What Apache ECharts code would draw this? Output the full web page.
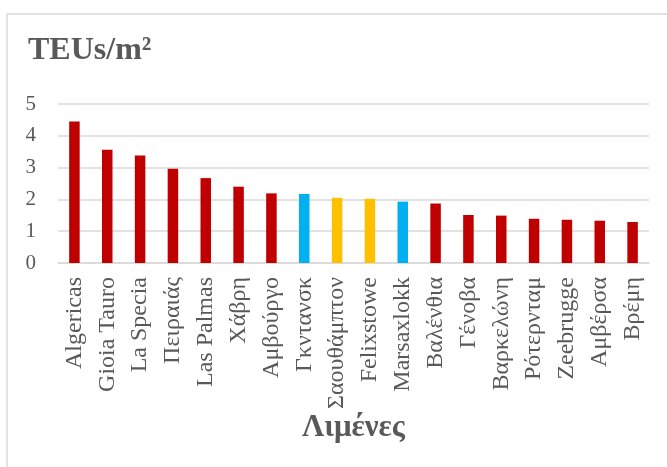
<!DOCTYPE html>
<html>
<head>
<meta charset="utf-8">
<script src="https://cdn.jsdelivr.net/npm/echarts@6/dist/echarts.min.js"></script>
<style>
  html, body { margin: 0; padding: 0; background: #fff; }
  #chart { width: 667px; height: 467px; }
</style>
</head>
<body>
<div id="chart"></div>
<script>
// Ports and their container throughput density (TEUs per m²)
const categories = ['Algericas', 'Gioia Tauro', 'La Specia', 'Πειραιάς', 'Las Palmas', 'Χάβρη',
  'Αμβούργο', 'Γκντανσκ', 'Σαουθάμπτον', 'Felixstowe', 'Marsaxlokk', 'Βαλένθια',
  'Γένοβα', 'Βαρκελώνη', 'Ρότερνταμ', 'Zeebrugge', 'Αμβέρσα', 'Βρέμη'];
const values = [4.45, 3.56, 3.38, 2.96, 2.67, 2.40, 2.19, 2.17, 2.05, 2.02, 1.93, 1.87,
  1.51, 1.49, 1.39, 1.36, 1.33, 1.29];
// Port group: 'a' default, 'b' and 'c' are the two highlighted groups
const groups = ['a', 'a', 'a', 'a', 'a', 'a', 'a', 'b', 'c', 'c', 'b', 'a',
  'a', 'a', 'a', 'a', 'a', 'a'];
const yTicks = [0, 1, 2, 3, 4, 5];

const groupColor = { a: '#C00000', b: '#00B0F0', c: '#FFC000' };
const textColor = '#595959';
const serif = '"Liberation Serif", "Times New Roman", serif';

const chart = echarts.init(document.getElementById('chart'));
chart.setOption({
  animation: false,
  backgroundColor: '#ffffff',
  graphic: [{
    type: 'rect',
    shape: { x: 7, y: 14, width: 700, height: 500 },
    style: { fill: 'none', stroke: '#d9d9d9', lineWidth: 1.5 },
    silent: true
  }],
  title: {
    text: 'TEUs/m²',
    left: 23,
    top: 30,
    textStyle: { fontFamily: serif, fontSize: 32, fontWeight: 'bold', color: textColor }
  },
  grid: { left: 58, right: 18, top: 104, bottom: 204, containLabel: false },
  xAxis: {
    type: 'category',
    data: categories,
    name: 'Λιμένες',
    nameLocation: 'middle',
    nameGap: 148,
    nameTextStyle: { fontFamily: serif, fontSize: 31, fontWeight: 'bold', color: textColor },
    axisLine: { lineStyle: { color: '#d9d9d9', width: 1.5 } },
    axisTick: { show: false },
    axisLabel: {
      interval: 0,
      rotate: 90,
      margin: 14,
      fontFamily: serif,
      fontSize: 24,
      color: textColor
    }
  },
  yAxis: {
    type: 'value',
    min: yTicks[0],
    max: yTicks[yTicks.length - 1],
    interval: 1,
    axisLine: { show: false },
    axisTick: { show: false },
    axisLabel: { margin: 22, fontFamily: serif, fontSize: 21, color: textColor },
    splitLine: { lineStyle: { color: '#d9d9d9', width: 1.5 } }
  },
  series: [{
    type: 'bar',
    barWidth: '32%',
    data: values.map((v, i) => ({ value: v, itemStyle: { color: groupColor[groups[i]] } }))
  }]
});
</script>
</body>
</html>
